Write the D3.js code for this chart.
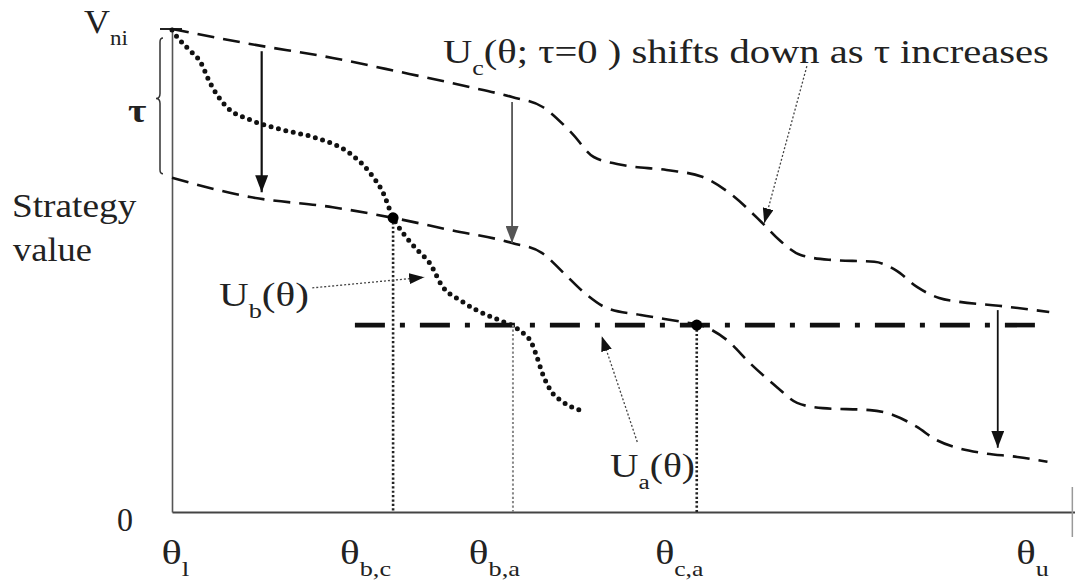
<!DOCTYPE html>
<html>
<head>
<meta charset="utf-8">
<script src="https://cdn.jsdelivr.net/npm/d3@7"></script>
<style>
  body { margin: 0; background: #fff; }
  svg { display: block; }
  text { font-family: "Liberation Serif", "Times New Roman", serif; fill: #222; }
</style>
</head>
<body>
<svg></svg>
<script>
// ---- data (theta on 0..100 from theta_l, strategy value on 0..100 up to V_ni) ----
const ucTopTheta = [0, 8.8, 18.1, 25.7, 33.0, 38.3, 41.7, 45.0, 47.5, 50.9, 55.7, 59.7, 62.6, 66.4, 68.4, 70.8, 74.2, 79.1, 81.5, 83.9, 86.4, 88.7, 93.1, 98.8];
const ucTopValue = [100, 96.9, 94.0, 91.1, 88.2, 85.9, 83.9, 78.5, 73.5, 71.8, 70.8, 69.4, 66.3, 60.0, 56.3, 53.2, 52.2, 51.8, 50.1, 46.6, 44.3, 43.5, 42.7, 41.4];

const ucLowTheta = [0, 8.8, 18.1, 24.9, 31.3, 38.3, 41.7, 44.1, 46.5, 49.0, 52.8, 57.7, 59.5, 62.5, 65.1, 68.1, 70.4, 73.3, 78.6, 81.2, 83.9, 86.1, 88.4, 91.3, 95.2, 98.6];
const ucLowValue = [69.2, 65.2, 63.1, 60.9, 58.4, 55.7, 53.6, 49.5, 45.3, 42.2, 40.8, 39.3, 38.7, 35.6, 30.8, 25.9, 22.6, 21.5, 21.1, 20.1, 17.6, 14.9, 13.3, 12.2, 11.4, 10.4];

const ubTheta = [0, 0.6, 2.0, 3.2, 4.3, 6.2, 8.8, 12.5, 16.3, 20.0, 22.3, 23.8, 24.9, 26.0, 27.6, 29.0, 30.5, 32.4, 34.3, 36.9, 38.4, 39.5, 40.5, 41.1, 41.7, 42.6, 44.0, 45.9];
const ubValue = [99.8, 98.3, 95.6, 93.2, 88.8, 83.8, 81.2, 79.1, 77.4, 74.3, 70.2, 66.0, 60.9, 57.8, 54.3, 51.6, 46.6, 43.9, 41.8, 39.7, 38.5, 37.1, 35.0, 32.1, 28.8, 25.3, 22.8, 21.1];

const uaTheta = [20.6, 98.8];
const uaValue = [38.7, 38.7];

// crossing points theta_b,c and theta_c,a
const crossTheta = [24.9, 59.1];
const crossValue = [60.9, 38.7];

// drop lines to the axis
const dropTheta = [24.9, 38.4, 59.1];
const dropValue = [60.9, 38.7, 38.7];

// shift arrows (tau)
const shiftTheta = [10.1, 38.3, 93.0];
const shiftFrom = [95.4, 84.9, 41.8];
const shiftTo = [66.2, 55.7, 13.3];

// x tick labels
const thetaTicks = [0, 24.9, 38.4, 59.1, 97.2];
const thetaLabels = [['θ', '_l'], ['θ', '_b,c'], ['θ', '_b,a'], ['θ', '_c,a'], ['θ', '_u']];

const width = 1075;
const height = 583;

const svg = d3.select('svg').attr('width', width).attr('height', height);

const x = d3.scaleLinear().domain([0, 101.7]).range([172, 1075]);
const y = d3.scaleLinear().domain([0, 100]).range([512, 29]);

const defs = svg.append('defs');
let addHead = (id, w, h, color) => {
  defs.append('marker')
    .attr('id', id)
    .attr('viewBox', `0 0 ${w} ${h}`)
    .attr('markerUnits', 'userSpaceOnUse')
    .attr('markerWidth', w)
    .attr('markerHeight', h)
    .attr('refX', w)
    .attr('refY', h / 2)
    .attr('orient', 'auto')
    .append('path')
    .attr('d', `M0,0 L${w},${h / 2} L0,${h} Z`)
    .attr('fill', color);
};
addHead('head', 17, 13, '#111');
addHead('headGray', 17, 13, '#555');
addHead('ptr', 15, 11, '#111');

// text with subscripts ('_x' parts), stretched to a given width
let label = (parent, x0, base, parts, w, size = 33) => {
  const t = parent.append('text').attr('transform', `translate(${x0},${base})`);
  let sub = false;
  parts.forEach((p) => {
    const isSub = p.startsWith('_');
    const ts = t.append('tspan')
      .attr('font-size', isSub ? size * 0.64 : size)
      .text(isSub ? p.slice(1) : p);
    if (isSub && !sub) ts.attr('dy', 12);
    if (!isSub && sub) ts.attr('dy', -12);
    sub = isSub;
  });
  const bw = t.node().getBBox().width;
  t.attr('transform', `translate(${x0},${base}) scale(${w / bw},1)`);
  return t;
};

// ---- axes ----
const xAxis = svg.append('g')
  .attr('transform', `translate(0,${y(0)})`)
  .call(d3.axisBottom(x).tickValues(thetaTicks).tickSize(0).tickSizeOuter(0).tickFormat(''));
xAxis.select('.domain').attr('stroke', '#444').attr('stroke-width', 2);

const tickOffsets = [3, -28, -19, -18, -3];
const tickWidths = [28, 51, 52, 49, 33];
xAxis.selectAll('.tick').each(function (d, i) {
  label(d3.select(this), tickOffsets[i], 52, thetaLabels[i], tickWidths[i]);
});

const yAxis = svg.append('g')
  .attr('transform', `translate(${x(0)},0)`)
  .call(d3.axisLeft(y).tickValues([0, 100]).tickSize(0).tickSizeOuter(0).tickFormat(''));
yAxis.select('.domain').attr('stroke', '#555').attr('stroke-width', 1.6);

// top tick at V_ni
svg.append('line')
  .attr('x1', x(0) - 12).attr('x2', x(0) + 10)
  .attr('y1', y(100)).attr('y2', y(100))
  .attr('stroke', '#222').attr('stroke-width', 2);

// small mark at the right end of the axis
svg.append('line')
  .attr('x1', x(101.4)).attr('x2', x(101.4))
  .attr('y1', y(0) - 25).attr('y2', y(0) + 25)
  .attr('stroke', '#999').attr('stroke-width', 1.5);

label(svg, 84, 33, ['V', '_ni'], 44);
label(svg, 117, 531, ['0'], 16);
label(svg, 12, 217, ['Strategy'], 125);
label(svg, 13, 261, ['value'], 79);

// tau brace
const bx = x(0) - 12;
const bTop = y(100) + 9;
const bBot = y(ucLowValue[0]) - 4;
const bMid = y(85.6);
svg.append('path')
  .attr('d', `M${bx + 3},${bTop} Q${bx},${bTop} ${bx},${bTop + 4} L${bx},${bMid - 5} Q${bx},${bMid} ${bx - 4},${bMid} Q${bx},${bMid} ${bx},${bMid + 5} L${bx},${bBot - 4} Q${bx},${bBot} ${bx + 3},${bBot}`)
  .attr('fill', 'none').attr('stroke', '#333').attr('stroke-width', 1.5);
label(svg, 128, 122, ['τ'], 16).attr('font-weight', 'bold');

// ---- curves ----
const line = d3.line().x((d) => x(d[0])).y((d) => y(d[1])).curve(d3.curveMonotoneX);

svg.append('path')
  .attr('d', line(d3.zip(ucTopTheta, ucTopValue)))
  .attr('fill', 'none').attr('stroke', '#111').attr('stroke-width', 2.6)
  .attr('stroke-dasharray', '17,9');

svg.append('path')
  .attr('d', line(d3.zip(ucLowTheta, ucLowValue)))
  .attr('fill', 'none').attr('stroke', '#111').attr('stroke-width', 2.6)
  .attr('stroke-dasharray', '17,9');

svg.append('path')
  .attr('d', line(d3.zip(ubTheta, ubValue)))
  .attr('fill', 'none').attr('stroke', '#111').attr('stroke-width', 5)
  .attr('stroke-linecap', 'round')
  .attr('stroke-dasharray', '0,7.6');

svg.append('path')
  .attr('d', line(d3.zip(uaTheta, uaValue)))
  .attr('fill', 'none').attr('stroke', '#111').attr('stroke-width', 4.6)
  .attr('stroke-dasharray', '30,15,5,15');

// drop lines
svg.selectAll('.drop')
  .data(d3.zip(dropTheta, dropValue))
  .enter()
  .append('line')
  .attr('class', 'drop')
  .attr('x1', (d) => x(d[0])).attr('x2', (d) => x(d[0]))
  .attr('y1', (d) => y(d[1])).attr('y2', y(0))
  .attr('stroke', (d, i) => (i === 1 ? '#888' : '#222'))
  .attr('stroke-width', (d, i) => (i === 1 ? 2 : 2.6))
  .attr('stroke-dasharray', '2.2,2.2');

// crossing dots
svg.selectAll('.cross')
  .data(d3.zip(crossTheta, crossValue))
  .enter()
  .append('circle')
  .attr('class', 'cross')
  .attr('cx', (d) => x(d[0])).attr('cy', (d) => y(d[1]))
  .attr('r', 5.5).attr('fill', '#000');

// shift arrows
svg.selectAll('.shift')
  .data(shiftTheta)
  .enter()
  .append('line')
  .attr('class', 'shift')
  .attr('x1', (d) => x(d)).attr('x2', (d) => x(d))
  .attr('y1', (d, i) => y(shiftFrom[i])).attr('y2', (d, i) => y(shiftTo[i]))
  .attr('stroke', (d, i) => (i === 1 ? '#555' : '#111'))
  .attr('stroke-width', (d, i) => (i === 0 ? 2.2 : 1.8))
  .attr('marker-end', (d, i) => (i === 1 ? 'url(#headGray)' : 'url(#head)'));

// ---- annotations ----
let pointer = (from, to) => {
  svg.append('line')
    .attr('x1', x(from[0])).attr('y1', y(from[1]))
    .attr('x2', x(to[0])).attr('y2', y(to[1]))
    .attr('stroke', '#444').attr('stroke-width', 1.3)
    .attr('stroke-dasharray', '2,2')
    .attr('marker-end', 'url(#ptr)');
};

label(svg, 443, 63, ['U', '_c', '(θ; τ=0 ) shifts down as τ increases'], 606);
pointer([71.5, 92.3], [66.7, 59.8]);

label(svg, 219, 306, ['U', '_b', '(θ)'], 90);
pointer([15.8, 46.4], [28.4, 48.6]);

label(svg, 610, 477, ['U', '_a', '(θ)'], 85);
pointer([52.4, 14.5], [48.4, 36.4]);
</script>
</body>
</html>
